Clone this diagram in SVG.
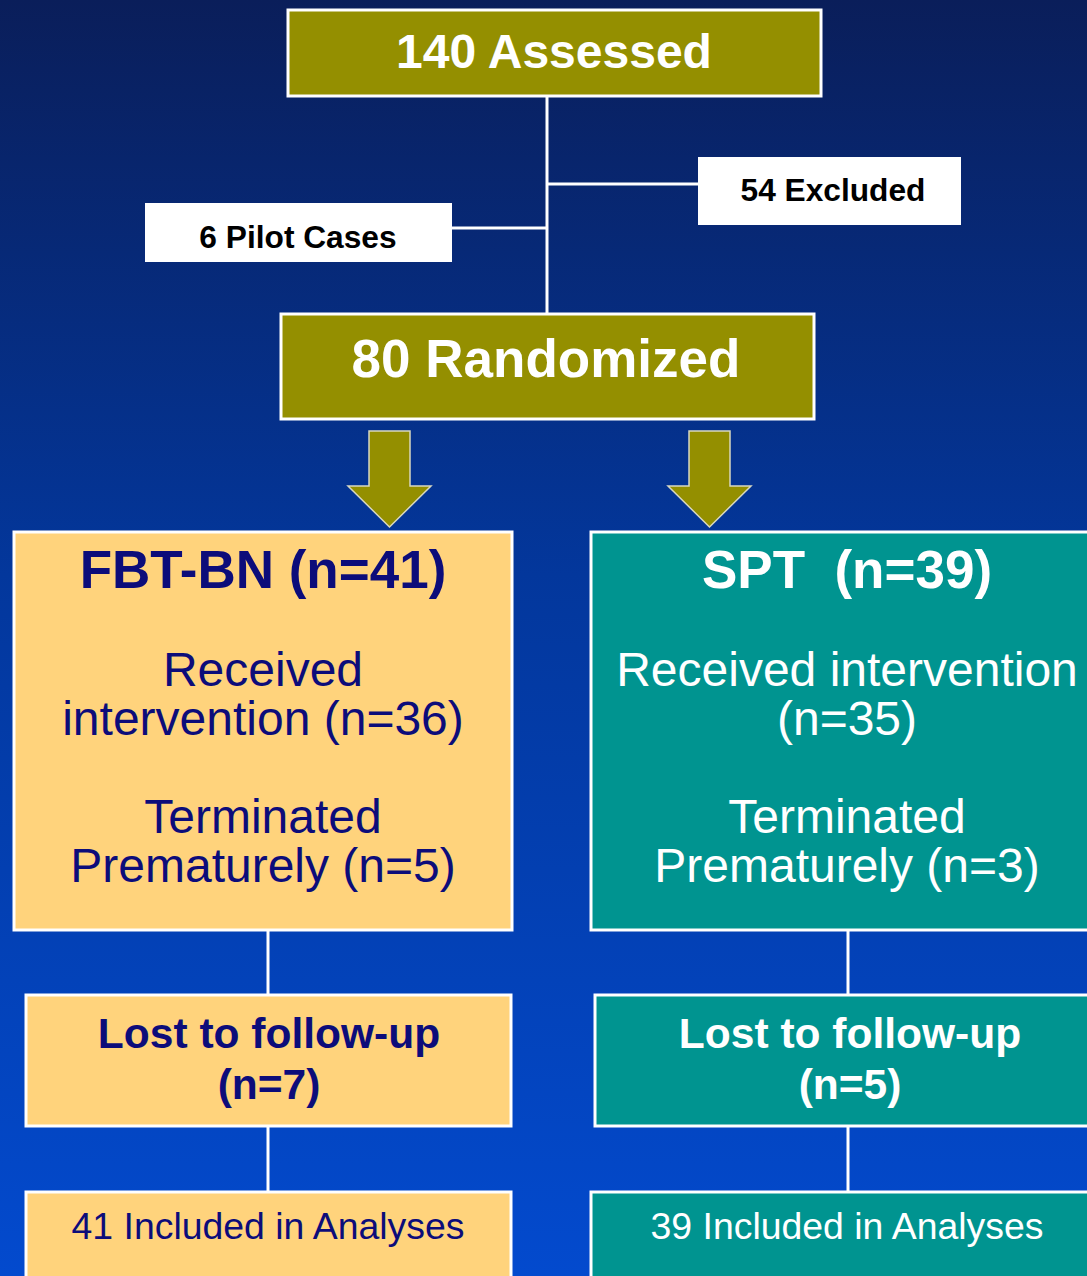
<svg xmlns="http://www.w3.org/2000/svg" width="1087" height="1276" viewBox="0 0 1087 1276">
<defs>
<linearGradient id="bg" x1="0" y1="0" x2="0" y2="1">
<stop offset="0" stop-color="#0A1E5A"/>
<stop offset="0.45" stop-color="#03379C"/>
<stop offset="1" stop-color="#034ACE"/>
</linearGradient>
<style>
.box{stroke:#FFFFFF;stroke-width:3}
.olive{fill:#948F00}
.yel{fill:#FFD37C}
.teal{fill:#009490}
.wht{fill:#FFFFFF}
.line{stroke:#FFFFFF;stroke-width:3;fill:none}
.arrow{fill:#948F00;stroke:#D8D8C0;stroke-width:1.5}
text{font-family:"Liberation Sans",Arial,sans-serif;text-anchor:middle}
.b{font-weight:bold}
.tw{fill:#FFFFFF}
.tn{fill:#0C0C7A}
.tk{fill:#000000}
</style>
</defs>
<rect x="0" y="0" width="1087" height="1276" fill="url(#bg)"/>
<g id="connectors">
<line class="line" x1="547" y1="96" x2="547" y2="314"/>
<line class="line" x1="547" y1="184" x2="699" y2="184"/>
<line class="line" x1="451" y1="228" x2="547" y2="228"/>
<line class="line" x1="268" y1="931" x2="268" y2="995"/>
<line class="line" x1="848" y1="931" x2="848" y2="995"/>
<line class="line" x1="268" y1="1127" x2="268" y2="1191"/>
<line class="line" x1="848" y1="1127" x2="848" y2="1191"/>
<polygon class="arrow" points="369,431 410,431 410,486 431,486 389.5,527 348,486 369,486"/>
<polygon class="arrow" points="689,431 730,431 730,486 751,486 709.5,527 668,486 689,486"/>
</g>
<g id="assessed">
<rect class="box olive" x="288" y="10" width="533" height="86"/>
<text class="b tw" x="554" y="68" font-size="48">140 Assessed</text>
</g>
<g id="excluded">
<rect class="wht" x="698" y="157" width="263" height="68"/>
<text class="b tk" x="833" y="201" font-size="31.7">54 Excluded</text>
</g>
<g id="pilot">
<rect class="wht" x="145" y="203" width="307" height="59"/>
<text class="b tk" x="298" y="248" font-size="31.7">6 Pilot Cases</text>
</g>
<g id="randomized">
<rect class="box olive" x="281" y="314" width="533" height="105"/>
<text class="b tw" x="546" y="377" font-size="53">80 Randomized</text>
</g>
<g id="fbt">
<rect class="box yel" x="14" y="532" width="498" height="398"/>
<text class="b tn" x="263" y="588" font-size="53">FBT-BN (n=41)</text>
<text class="tn" x="263" y="686" font-size="48">Received</text>
<text class="tn" x="263" y="735" font-size="48">intervention (n=36)</text>
<text class="tn" x="263" y="833" font-size="48">Terminated</text>
<text class="tn" x="263" y="882" font-size="48">Prematurely (n=5)</text>
</g>
<g id="spt">
<rect class="box teal" x="591" y="532" width="500" height="398"/>
<text class="b tw" x="847" y="588" font-size="53" xml:space="preserve">SPT  (n=39)</text>
<text class="tw" x="847" y="686" font-size="48">Received intervention</text>
<text class="tw" x="847" y="735" font-size="48">(n=35)</text>
<text class="tw" x="847" y="833" font-size="48">Terminated</text>
<text class="tw" x="847" y="882" font-size="48">Prematurely (n=3)</text>
</g>
<g id="lost-fbt">
<rect class="box yel" x="26" y="995" width="485" height="131"/>
<text class="b tn" x="269" y="1048" font-size="42.5">Lost to follow-up</text>
<text class="b tn" x="269" y="1099" font-size="42.5">(n=7)</text>
</g>
<g id="lost-spt">
<rect class="box teal" x="595" y="995" width="496" height="131"/>
<text class="b tw" x="850" y="1048" font-size="42.5">Lost to follow-up</text>
<text class="b tw" x="850" y="1099" font-size="42.5">(n=5)</text>
</g>
<g id="incl-fbt">
<rect class="box yel" x="26" y="1192" width="485" height="90"/>
<text class="tn" x="268" y="1239" font-size="37.4">41 Included in Analyses</text>
</g>
<g id="incl-spt">
<rect class="box teal" x="591" y="1192" width="500" height="90"/>
<text class="tw" x="847" y="1239" font-size="37.4">39 Included in Analyses</text>
</g>
</svg>
